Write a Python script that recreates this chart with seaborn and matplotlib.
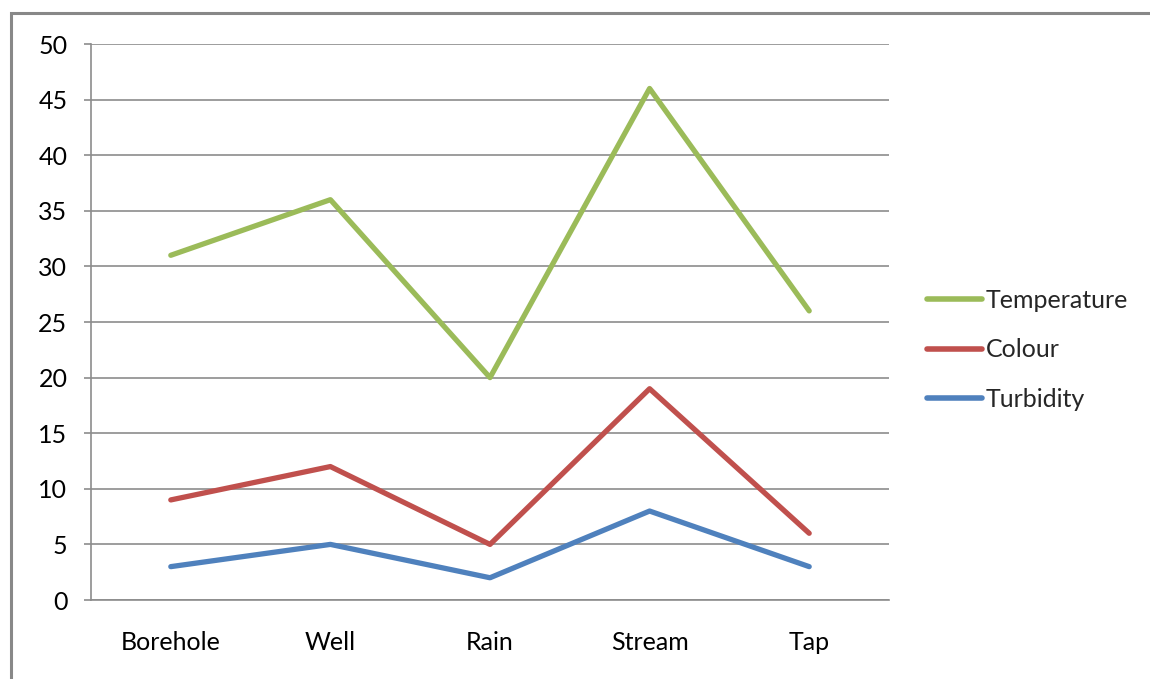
import pandas as pd
import matplotlib
matplotlib.use("Agg")
import matplotlib.pyplot as plt
import seaborn as sns
from matplotlib.patches import Rectangle
from matplotlib.ticker import FixedLocator

sources = ["Borehole", "Well", "Rain", "Stream", "Tap"]
temperature = [31, 36, 20, 46, 26]
colour = [9, 12, 5, 19, 6]
turbidity = [3, 5, 2, 8, 3]

series_names = ["Temperature", "Colour", "Turbidity"]
palette = {"Temperature": "#9BBB59", "Colour": "#C0504D", "Turbidity": "#4F81BD"}

df = pd.DataFrame({
    "source": sources * 3,
    "value": temperature + colour + turbidity,
    "series": ["Temperature"] * 5 + ["Colour"] * 5 + ["Turbidity"] * 5,
})

sns.set_style("white")
plt.rcParams["font.family"] = ["Lato", "DejaVu Sans"]

fig = plt.figure(figsize=(11.5, 6.79), dpi=100)
ax = fig.add_axes([91 / 1150, 1 - 600 / 679, (889 - 91) / 1150, (600 - 44) / 679])

sns.lineplot(data=df, x="source", y="value", hue="series", hue_order=series_names,
             palette=palette, sort=False, linewidth=3.8, ax=ax, legend=True)

ax.set_xlim(-0.5, 4.5)
ax.set_ylim(0, 50)
ax.set_yticks(range(0, 51, 5))
ax.set_xticks(range(5))
ax.set_xticklabels(sources)
ax.xaxis.set_minor_locator(FixedLocator([-0.5, 0.5, 1.5, 2.5, 3.5, 4.5]))
ax.set_xlabel("")
ax.set_ylabel("")

grey = "#8C8C8C"
ax.grid(axis="y", color=grey, linewidth=1.2)
ax.set_axisbelow(True)
for side in ["top", "right"]:
    ax.spines[side].set_visible(False)
for side in ["left", "bottom"]:
    ax.spines[side].set_color(grey)
    ax.spines[side].set_linewidth(1.2)

fs = 18
ax.tick_params(axis="y", which="major", length=5, width=1.2, color=grey,
               direction="out", pad=12, labelsize=fs, labelcolor="black")
ax.tick_params(axis="x", which="major", length=0, pad=22, labelsize=fs, labelcolor="black")
ax.tick_params(axis="x", which="minor", length=6, width=1.2, color=grey, direction="out")
ax.tick_params(left=True)

handles, labels = ax.get_legend_handles_labels()
ax.legend(handles, labels, loc="center left", bbox_to_anchor=(927 / 1150, 1 - 350 / 679),
          bbox_transform=fig.transFigure, frameon=False, fontsize=fs,
          handlelength=2.2, handletextpad=0.15, labelspacing=1.05, borderaxespad=0,
          borderpad=0)
for line in ax.get_legend().get_lines():
    line.set_linewidth(4)

fig.patches.append(Rectangle((11 / 1150, -0.1), 1.2, 1 - 13 / 679 + 0.1,
                             transform=fig.transFigure, fill=False,
                             edgecolor="#888888", linewidth=2.2, zorder=0))

fig.savefig("out.png", dpi=100)
